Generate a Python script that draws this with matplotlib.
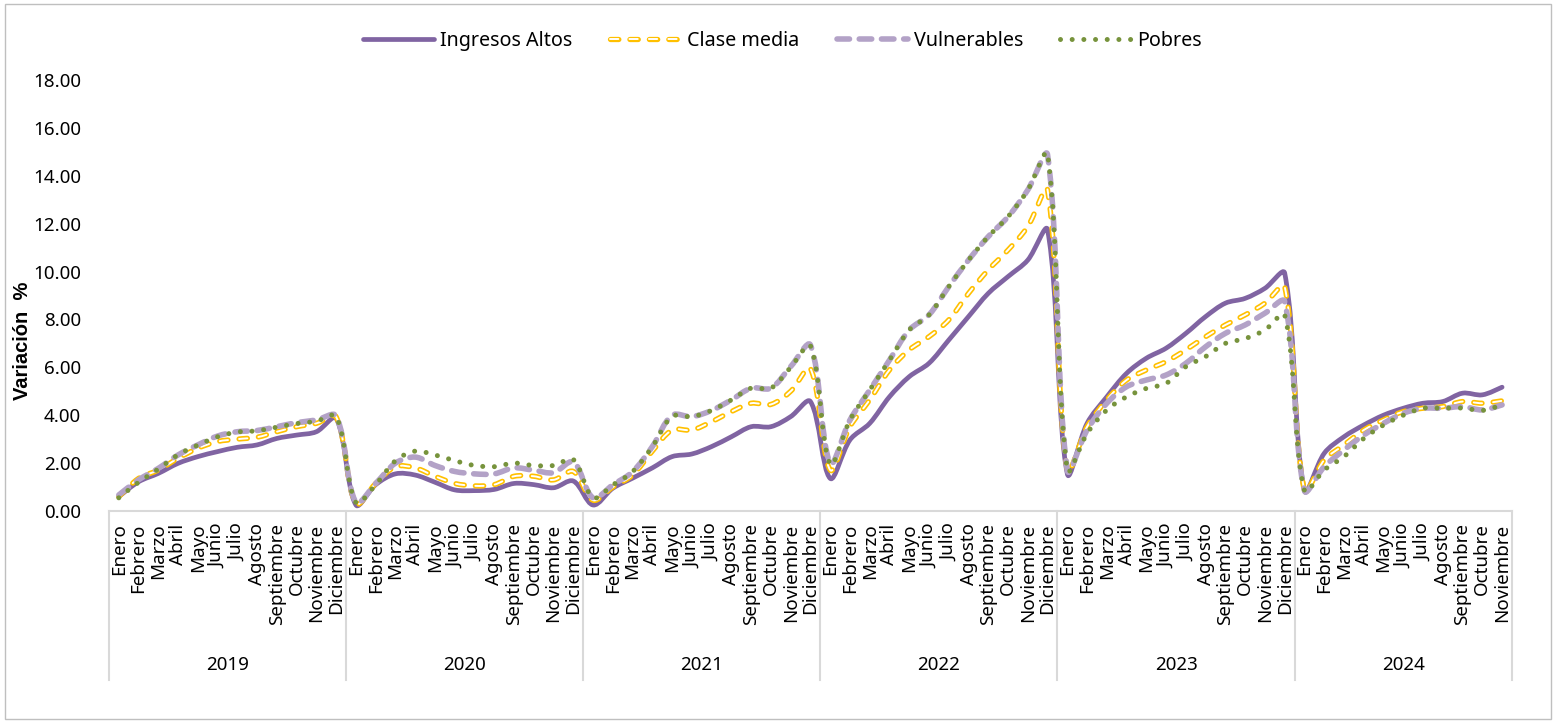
import numpy as np
import matplotlib
matplotlib.use('Agg')
import matplotlib.pyplot as plt
from matplotlib.path import Path
from matplotlib.patches import PathPatch, Rectangle
from matplotlib.lines import Line2D

plt.rcParams['font.family'] = ['Noto Sans', 'DejaVu Sans']
plt.rcParams['lines.scale_dashes'] = False

meses = ['Enero', 'Febrero', 'Marzo', 'Abril', 'Mayo', 'Junio', 'Julio',
         'Agosto', 'Septiembre', 'Octubre', 'Noviembre', 'Diciembre']
anios = ['2019', '2020', '2021', '2022', '2023', '2024']
etiquetas = meses * 5 + meses[:11]

ingresos_altos = [
    0.60, 1.22, 1.57, 1.99, 2.27, 2.48, 2.66, 2.76, 3.03, 3.17, 3.31, 3.87,
    0.25, 1.10, 1.55, 1.50, 1.20, 0.88, 0.85, 0.90, 1.15, 1.10, 0.97, 1.25,
    0.25, 0.95, 1.37, 1.80, 2.27, 2.38, 2.69, 3.10, 3.52, 3.52, 3.94, 4.57,
    1.36, 2.97, 3.66, 4.77, 5.61, 6.17, 7.14, 8.12, 9.09, 9.79, 10.48, 11.74,
    1.55, 3.66, 4.77, 5.75, 6.38, 6.80, 7.42, 8.12, 8.68, 8.88, 9.30, 9.93,
    0.85, 2.41, 3.10, 3.59, 4.00, 4.29, 4.50, 4.57, 4.92, 4.85, 5.17]

clase_media = [
    0.60, 1.36, 1.71, 2.20, 2.62, 2.90, 3.00, 3.08, 3.31, 3.52, 3.66, 3.93,
    0.30, 1.15, 1.85, 1.80, 1.45, 1.15, 1.05, 1.10, 1.45, 1.45, 1.30, 1.65,
    0.45, 1.00, 1.50, 2.50, 3.38, 3.38, 3.73, 4.15, 4.50, 4.45, 5.00, 5.95,
    1.71, 3.52, 4.64, 5.89, 6.73, 7.28, 7.98, 9.09, 10.07, 10.90, 11.88, 13.40,
    1.70, 3.52, 4.64, 5.47, 5.89, 6.24, 6.73, 7.28, 7.77, 8.19, 8.68, 9.37,
    0.85, 2.13, 2.76, 3.38, 3.80, 4.15, 4.29, 4.36, 4.57, 4.50, 4.60]

vulnerables = [
    0.67, 1.30, 1.78, 2.34, 2.76, 3.13, 3.31, 3.36, 3.52, 3.69, 3.80, 3.97,
    0.35, 1.15, 2.00, 2.25, 1.90, 1.65, 1.55, 1.55, 1.80, 1.70, 1.60, 2.05,
    0.55, 1.09, 1.64, 2.69, 4.00, 3.94, 4.20, 4.64, 5.13, 5.13, 6.03, 6.93,
    2.00, 3.80, 5.05, 6.30, 7.56, 8.19, 9.37, 10.48, 11.46, 12.29, 13.41, 14.87,
    1.70, 3.38, 4.50, 5.19, 5.47, 5.68, 6.17, 6.86, 7.42, 7.77, 8.26, 8.74,
    0.85, 1.85, 2.55, 3.17, 3.66, 4.08, 4.29, 4.29, 4.36, 4.22, 4.43]

pobres = [
    0.55, 1.20, 1.75, 2.35, 2.75, 3.10, 3.30, 3.35, 3.50, 3.65, 3.75, 3.95,
    0.35, 1.10, 2.10, 2.50, 2.34, 2.10, 1.90, 1.85, 2.00, 1.90, 1.90, 2.15,
    0.55, 1.09, 1.64, 2.69, 3.95, 3.94, 4.20, 4.64, 5.13, 5.13, 6.00, 6.90,
    1.95, 3.80, 5.05, 6.30, 7.56, 8.19, 9.37, 10.48, 11.46, 12.29, 13.41, 14.90,
    1.70, 3.24, 4.22, 4.77, 5.12, 5.33, 6.03, 6.45, 7.00, 7.20, 7.56, 8.19,
    0.85, 1.71, 2.27, 3.03, 3.59, 4.00, 4.29, 4.29, 4.30, 4.20, 4.43]


def smooth_path(vals, sx, sy):
    """Bezier path through the points, control arms scaled by segment length
    (measured in pixels), roughly how Excel smooths a line"""
    y = np.asarray(vals, float)
    x = np.arange(len(y), dtype=float)
    n = len(y)
    P = np.column_stack([x, y])
    scale = np.array([sx, sy])

    def dist(a, b):
        return np.hypot(*((P[b] - P[a]) * scale))

    verts = [tuple(P[0])]
    codes = [Path.MOVETO]
    for i in range(n - 1):
        a = max(i - 1, 0)
        b = min(i + 2, n - 1)
        d01, d12, d23 = dist(a, i), dist(i, i + 1), dist(i + 1, b)
        f1 = d12 / (d01 + d12) / 3 if d01 > 0 else 1 / 6
        f2 = d12 / (d12 + d23) / 3 if d23 > 0 else 1 / 6
        c1 = P[i] + (P[i + 1] - P[a]) * f1
        c2 = P[i + 1] - (P[b] - P[i]) * f2
        verts += [tuple(c1), tuple(c2), tuple(P[i + 1])]
        codes += [Path.CURVE4] * 3
    return Path(verts, codes)


fig = plt.figure(figsize=(15.56, 7.25), dpi=100)
ax = fig.add_axes([0.070, 0.2952, 0.9017, 0.5945])

n = len(etiquetas)
ax.set_xlim(-0.5, n - 0.5)
ax.set_ylim(0, 18)

# pixels per data unit, for the smoothing
bbox = ax.get_window_extent()
px_x = bbox.width / n
px_y = bbox.height / 18

estilos = {
    'Ingresos Altos': [('#8064A2', 3.4, '-')],
    'Clase media': [('#FFC000', 3.8, (0, (6, 8))), ('white', 1.4, (0, (6, 8)))],
    'Vulnerables': [('#B3A2C7', 4.0, (0, (9, 7)))],
    'Pobres': [('#77933C', 3.6, (0, (0.01, 8.4)))],
}
series = [('Ingresos Altos', ingresos_altos), ('Clase media', clase_media),
          ('Vulnerables', vulnerables), ('Pobres', pobres)]

handles = []
for nombre, vals in series:
    path = smooth_path(vals, px_x, px_y)
    capas = []
    for color, lw, ls in estilos[nombre]:
        ax.add_patch(PathPatch(path, fill=False, edgecolor=color, lw=lw,
                               linestyle=ls, capstyle='round', joinstyle='round'))
        capas.append(Line2D([], [], color=color, lw=lw, linestyle=ls,
                            dash_capstyle='round', solid_capstyle='round'))
    handles.append(tuple(capas) if len(capas) > 1 else capas[0])

ax.set_yticks(np.arange(0, 18.1, 2))
ax.set_yticklabels([f'{v:.2f}' for v in np.arange(0, 18.1, 2)], fontsize=13.5)
ax.set_xticks(range(n))
ax.set_xticklabels(etiquetas, rotation=90, fontsize=13.5, va='top')
ax.tick_params(axis='both', length=0)
ax.tick_params(axis='x', pad=9)
ax.tick_params(axis='y', pad=20)

for s in ['left', 'right', 'top']:
    ax.spines[s].set_visible(False)
ax.spines['bottom'].set_color('#D9D9D9')
ax.spines['bottom'].set_linewidth(1.5)

# year group separators and labels
trans = ax.get_xaxis_transform()
for k in range(len(anios) + 1):
    xs = min(k * 12, n) - 0.5
    ax.plot([xs, xs], [0, -0.392], transform=trans, color='#D9D9D9',
            lw=1.5, clip_on=False)
for k, anio in enumerate(anios):
    ini = k * 12
    fin = min(ini + 11, n - 1)
    ax.text((ini + fin) / 2, -0.357, anio, transform=trans, ha='center',
            va='center', fontsize=13.5)

fig.text(0.0145, 1 - 341 / 725, 'Variación  %', rotation=90, fontsize=14.5,
         fontweight='bold', family=['Liberation Sans', 'DejaVu Sans'],
         ha='center', va='center')

fig.legend(handles, [s[0] for s in series], loc='center',
           bbox_to_anchor=(0.503, 0.943), ncol=4, frameon=False, fontsize=14.2,
           handlelength=3.6, handletextpad=0.3, columnspacing=1.9)

fig.patches.append(Rectangle((0.003, 0.008), 0.994, 0.986, transform=fig.transFigure,
                             fill=False, edgecolor='#BFBFBF', lw=1))

plt.savefig('out.png', dpi=100)
